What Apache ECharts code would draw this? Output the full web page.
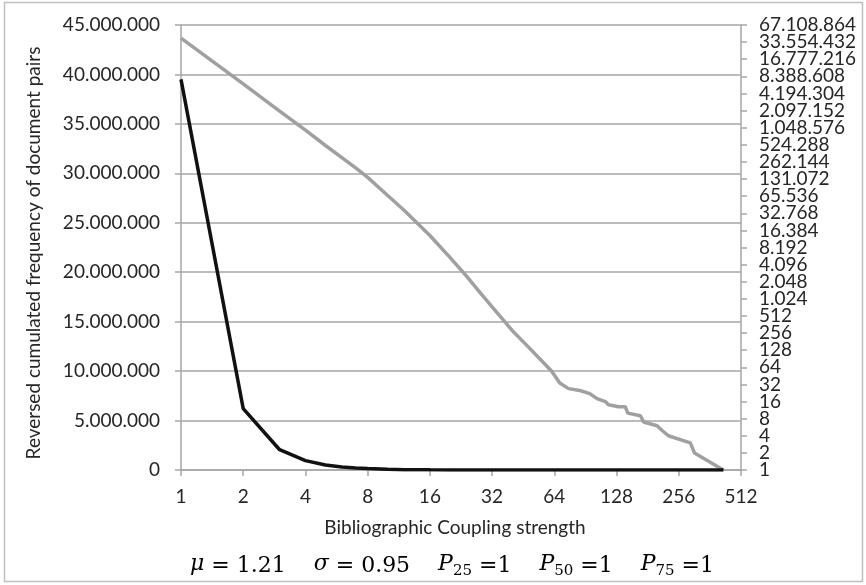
<!DOCTYPE html>
<html>
<head>
<meta charset="utf-8">
<script src="https://cdn.jsdelivr.net/npm/echarts@6/dist/echarts.min.js"></script>
<style>
  html, body { margin: 0; padding: 0; background: #fff; }
  #chart { width: 866px; height: 585px; }
</style>
</head>
<body>
<div id="chart"></div>
<script>
// Bibliographic coupling strength (x) and reversed cumulated frequency of document pairs (y)
const strength = [1, 2, 3, 4, 5, 6, 7, 8, 10, 12, 16, 20, 24, 28, 32, 40, 48, 56, 62, 68, 75, 85, 95, 103, 113, 117, 131, 141, 145, 167, 173, 201, 212, 228, 291, 305, 421];
const pairs = [39500000, 6200000, 2050000, 950000, 510000, 312000, 206000, 140000, 67400, 37100, 13300, 5480, 2600, 1320, 740, 285, 145, 81, 55, 34, 27, 25, 22, 18, 16, 14, 13, 13, 10, 9, 7, 6, 5, 4, 3, 2, 1];

const xTicks = [1, 2, 4, 8, 16, 32, 64, 128, 256, 512];
const leftTicks = [0, 5000000, 10000000, 15000000, 20000000, 25000000, 30000000, 35000000, 40000000, 45000000];
const rightTicks = [1, 2, 4, 8, 16, 32, 64, 128, 256, 512, 1024, 2048, 4096, 8192, 16384, 32768, 65536, 131072, 262144, 524288, 1048576, 2097152, 4194304, 8388608, 16777216, 33554432, 67108864];

const xAxisTitle = 'Bibliographic Coupling strength';
const yAxisTitle = 'Reversed cumulated frequency of document pairs';

const series = strength.map((s, i) => [s, pairs[i]]);

function dots(v) {
  return String(Math.round(v)).replace(/\B(?=(\d{3})+(?!\d))/g, '.');
}

const FONT = 'Lato';
const TXT = '#262626';
const GRID = '#a6a6a6';

const chart = echarts.init(document.getElementById('chart'), null, { renderer: 'canvas' });
chart.setOption({
  animation: false,
  backgroundColor: '#fff',
  grid: { left: 181, right: 125, top: 25, bottom: 115, containLabel: false },
  xAxis: {
    type: 'log', logBase: 2, min: xTicks[0], max: xTicks[xTicks.length - 1],
    axisLine: { show: true, lineStyle: { color: GRID, width: 1.5 } },
    axisTick: { show: true, length: 6, lineStyle: { color: GRID, width: 1.5 } },
    axisLabel: { color: TXT, fontFamily: FONT, fontSize: 19, margin: 17, showMinLabel: true, showMaxLabel: true, formatter: v => dots(v) },
    splitLine: { show: false },
    minorTick: { show: false }
  },
  yAxis: [
    {
      type: 'value', min: leftTicks[0], max: leftTicks[leftTicks.length - 1], interval: 5000000,
      position: 'left',
      axisLine: { show: true, lineStyle: { color: GRID, width: 1.5 } },
      axisTick: { show: true, length: 6, lineStyle: { color: GRID, width: 1.5 } },
      axisLabel: { color: TXT, fontFamily: FONT, fontSize: 19, margin: 21, showMinLabel: true, showMaxLabel: true, formatter: v => dots(v) },
      splitLine: { show: true, lineStyle: { color: GRID, width: 1.5 } }
    },
    {
      type: 'log', logBase: 2, min: rightTicks[0], max: rightTicks[rightTicks.length - 1], interval: 1,
      position: 'right',
      axisLine: { show: true, lineStyle: { color: GRID, width: 1.5 } },
      axisTick: { show: true, length: 6, lineStyle: { color: GRID, width: 1.5 } },
      axisLabel: { show: false },
      splitLine: { show: false }
    }
  ],
  series: [
    {
      type: 'line', yAxisIndex: 1, data: series, showSymbol: false, symbol: 'none',
      lineStyle: { color: '#a0a0a0', width: 3.5 }, z: 2
    },
    {
      type: 'line', yAxisIndex: 0, data: series, showSymbol: false, symbol: 'none',
      lineStyle: { color: '#111111', width: 3.5 }, z: 3
    }
  ]
});

// Static texts + right (log2) axis tick labels placed through the axis' own scale
const axisX = chart.convertToPixel({ xAxisIndex: 0 }, xTicks[xTicks.length - 1]);
const graphics = [
  { type: 'rect', shape: { x: 4.5, y: 2.5, width: 858, height: 579 }, style: { fill: 'none', stroke: '#bfbfbf', lineWidth: 1.5 }, silent: true, z: -1 },
  { type: 'text', x: 455, y: 528, silent: true, style: { text: xAxisTitle, fill: TXT, font: '19px ' + FONT, textAlign: 'center', textVerticalAlign: 'middle' } },
  { type: 'text', x: 34, y: 253, rotation: Math.PI / 2, silent: true, style: { text: yAxisTitle, fill: TXT, font: '19px ' + FONT, textAlign: 'center', textVerticalAlign: 'middle' } },
  { type: 'text', x: 452, y: 566, silent: true, style: {
      text: '{i|μ} = 1.21    {i|σ} = 0.95    {i|P}{s|25} =1    {i|P}{s|50} =1    {i|P}{s|75} =1',
      fill: '#000', fontFamily: 'DejaVu Serif', fontSize: 22, align: 'center', verticalAlign: 'middle',
      rich: {
        i: { fontStyle: 'italic', fontFamily: 'DejaVu Serif', fontSize: 22, fill: '#000', lineHeight: 26, verticalAlign: 'top' },
        s: { fontFamily: 'DejaVu Serif', fontSize: 15, fill: '#000', lineHeight: 15, verticalAlign: 'bottom' }
      }
  } }
];
rightTicks.forEach(v => {
  graphics.push({
    type: 'text',
    x: axisX + 18,
    y: chart.convertToPixel({ yAxisIndex: 1 }, v),
    silent: true,
    style: { text: dots(v), fill: TXT, font: '19px ' + FONT, textAlign: 'left', textVerticalAlign: 'middle' }
  });
});
chart.setOption({ graphic: graphics });
</script>
</body>
</html>
